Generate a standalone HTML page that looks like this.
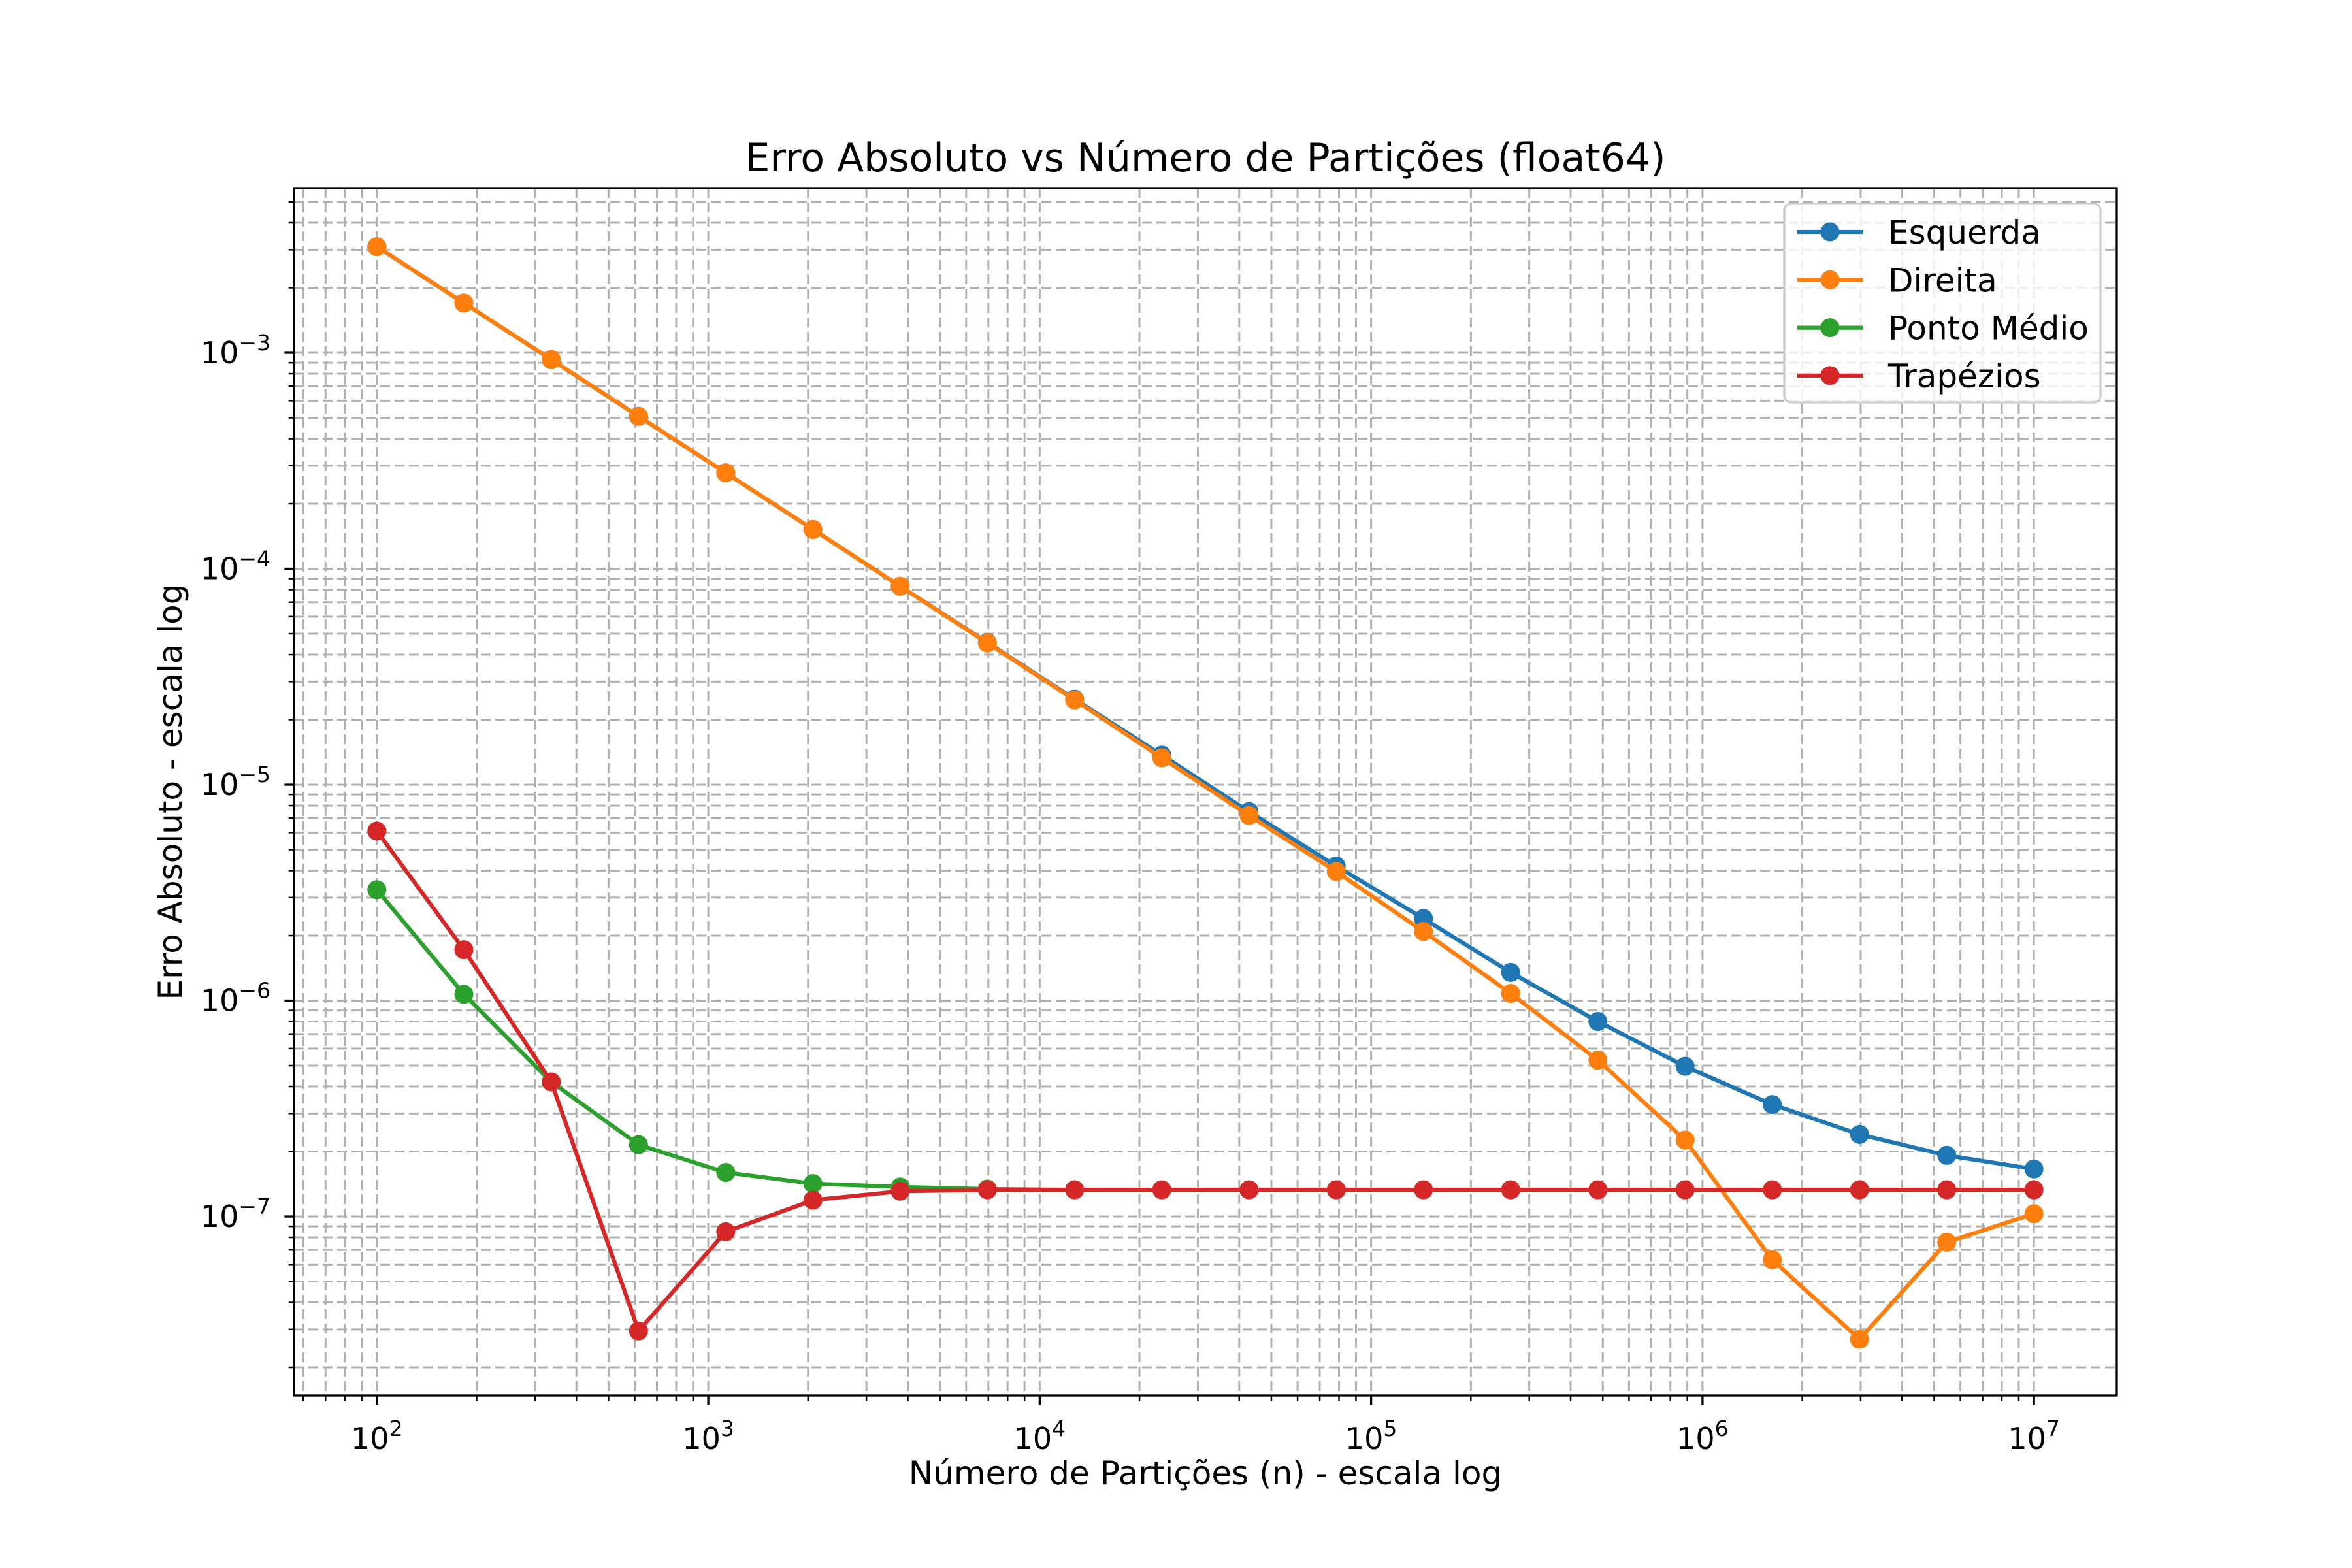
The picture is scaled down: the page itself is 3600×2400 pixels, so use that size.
<!DOCTYPE html>
<html><head><meta charset="utf-8"><style>
html,body{margin:0;padding:0;background:#fff;}
svg{display:block;}
text{font-family:"DejaVu Sans","Liberation Sans",sans-serif;fill:#000;}
</style></head><body>
<svg id="chart" width="3600" height="2400" viewBox="0 0 3600 2400" xmlns="http://www.w3.org/2000/svg">
<rect width="3600" height="2400" fill="#fff"/>
<g id="grid"></g>
<g id="series"></g>
<rect x="450" y="288" width="2790" height="1848" fill="none" stroke="#000" stroke-width="3.3"/>
<g id="ticks"></g>
<text x="1845" y="262" font-size="60" text-anchor="middle">Erro Absoluto vs Número de Partições (float64)</text>
<text x="1845" y="2272" font-size="50" text-anchor="middle">Número de Partições (n) - escala log</text>
<text transform="translate(278,1212) rotate(-90)" font-size="50" text-anchor="middle">Erro Absoluto - escala log</text>
<g id="legend"></g>
</svg>
<script>
const nValues = [100,183,336,616,1129,2069,3793,6952,12743,23357,42813,78476,143845,263665,483293,885867,1623777,2976351,5455595,10000000];
const esquerda = [3.1e-3,1.7e-3,9.3e-4,5.08e-4,2.78e-4,1.52e-4,8.3e-5,4.55e-5,2.49e-5,1.37e-5,7.5e-6,4.2e-6,2.4e-6,1.35e-6,8.0e-7,4.96e-7,3.3e-7,2.4e-7,1.92e-7,1.66e-7];
const direita = [3.1e-3,1.7e-3,9.3e-4,5.08e-4,2.78e-4,1.52e-4,8.3e-5,4.53e-5,2.47e-5,1.33e-5,7.2e-6,3.96e-6,2.09e-6,1.08e-6,5.3e-7,2.26e-7,6.3e-8,2.7e-8,7.6e-8,1.03e-7];
const pontoMedio = [3.26e-6,1.07e-6,4.2e-7,2.15e-7,1.6e-7,1.42e-7,1.37e-7,1.34e-7,1.33e-7,1.33e-7,1.33e-7,1.33e-7,1.33e-7,1.33e-7,1.33e-7,1.33e-7,1.33e-7,1.33e-7,1.33e-7,1.33e-7];
const trapezios = [6.1e-6,1.72e-6,4.2e-7,2.95e-8,8.5e-8,1.19e-7,1.31e-7,1.33e-7,1.33e-7,1.33e-7,1.33e-7,1.33e-7,1.33e-7,1.33e-7,1.33e-7,1.33e-7,1.33e-7,1.33e-7,1.33e-7,1.33e-7];
const seriesNames = ["Esquerda","Direita","Ponto Médio","Trapézios"];
const xTickExps = [2,3,4,5,6,7];
const yTickExps = [-7,-6,-5,-4,-3];

const NS="http://www.w3.org/2000/svg";
const L=450,R=3240,T=288,B=2136;
const xLo=1.75,xHi=7.25,yLo=-7.829,yHi=-2.2375;
function xs(v){return L+(Math.log10(v)-xLo)/(xHi-xLo)*(R-L);}
function ys(v){return B-(Math.log10(v)-yLo)/(yHi-yLo)*(B-T);}
function mk(tag,attrs,parent){const e=document.createElementNS(NS,tag);for(const k in attrs)e.setAttribute(k,attrs[k]);parent.appendChild(e);return e;}
const grid=document.getElementById('grid'),ticks=document.getElementById('ticks');
for(let d=1;d<=7;d++){for(let m=1;m<=9;m++){const v=m*Math.pow(10,d);const lv=Math.log10(v);if(lv<xLo||lv>xHi)continue;const x=xs(v);
 const g=mk('line',{x1:x,x2:x,y1:T,y2:B,stroke:'#b0b0b0','stroke-width':3,'stroke-dasharray':'15 7'},grid);
 
 
 const t=mk('line',{x1:x,x2:x,y1:B,y2:B+(m===1?14.6:8.3),stroke:'#000','stroke-width':m===1?3.3:2.5},ticks);
 
 
}}
xTickExps.forEach(e=>{const x=xs(Math.pow(10,e));const t=mk('text',{x:x,y:2218,'font-size':46,'text-anchor':'middle'},ticks);
 
 
 t.innerHTML='10<tspan dy="-20" font-size="33">'+e+'</tspan>';});
for(let d=-9;d<=-2;d++){for(let m=1;m<=9;m++){const v=m*Math.pow(10,d);const lv=Math.log10(v);if(lv<yLo||lv>yHi)continue;const y=ys(v);
 const g=mk('line',{x1:L,x2:R,y1:y,y2:y,stroke:'#b0b0b0','stroke-width':3,'stroke-dasharray':'15 7'},grid);
 
 
 const t=mk('line',{x1:L-(m===1?14.6:8.3),x2:L,y1:y,y2:y,stroke:'#000','stroke-width':m===1?3.3:2.5},ticks);
 
 
}}
yTickExps.forEach(e=>{const y=ys(Math.pow(10,e));const t=mk('text',{x:414,y:y+16,'font-size':46,'text-anchor':'end'},ticks);
 
 
 t.innerHTML='10<tspan dy="-20" font-size="33">\u2212'+(-e)+'</tspan>';});
const colors=['#1f77b4','#ff7f0e','#2ca02c','#d62728'];
const allSeries=[esquerda,direita,pontoMedio,trapezios];
const sg=document.getElementById('series');
allSeries.forEach((s,i)=>{
 const g=mk('g',{},sg);
 
 
 const pts=s.map((v,j)=>xs(nValues[j]).toFixed(1)+','+ys(v).toFixed(1)).join(' ');
 const pl=mk('polyline',{points:pts,fill:'none',stroke:colors[i],'stroke-width':6.25,'stroke-linejoin':'round','stroke-linecap':'square'},g);
 
 
 s.forEach((v,j)=>{const c=mk('circle',{cx:xs(nValues[j]),cy:ys(v),r:14.5,fill:colors[i]},g);
  
  });
});
const lg=document.getElementById('legend');
const box=mk('rect',{x:2731,y:312,width:484,height:304,rx:10,fill:'#fff','fill-opacity':0.8,stroke:'#cccccc','stroke-width':3.3},lg);


seriesNames.forEach((n,i)=>{const y=355+i*73.3;
 const g=mk('g',{},lg);
 
 
 mk('line',{x1:2751,x2:2851,y1:y,y2:y,stroke:colors[i],'stroke-width':6.25},g);
 mk('circle',{cx:2801,cy:y,r:14.5,fill:colors[i]},g);
 const t=mk('text',{x:2890,y:y+18,'font-size':50},g);t.textContent=n;});
</script>
</body></html>
